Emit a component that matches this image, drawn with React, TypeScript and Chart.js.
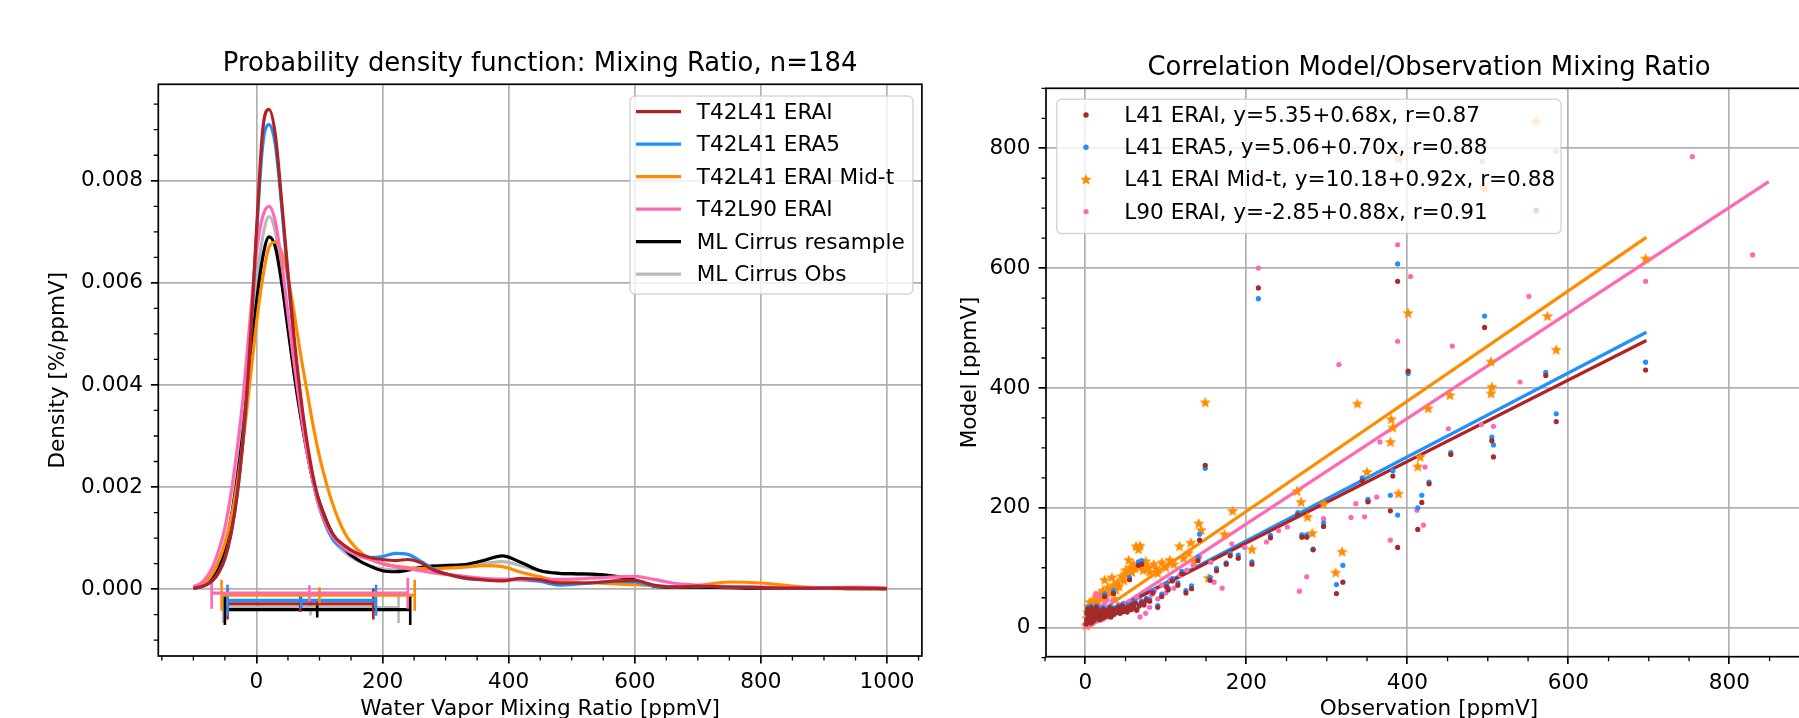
import React, { useEffect, useRef } from "react";
import { Chart, registerables } from "chart.js";
Chart.register(...registerables);

const FONT = "'DejaVu Sans', 'Liberation Sans', sans-serif";
const FS = 21.6;
const FS_TITLE = 25.9;

// ---------------- Left panel: PDF ----------------
const pdfTitle = "Probability density function: Mixing Ratio, n=184";
const pdfXLabel = "Water Vapor Mixing Ratio [ppmV]";
const pdfYLabel = "Density [%/ppmV]";
const pdfSeriesNames = ["T42L41 ERAI", "T42L41 ERA5", "T42L41 ERAI Mid-t", "T42L90 ERAI", "ML Cirrus resample", "ML Cirrus Obs"];
const pdfXTicks = [0, 200, 400, 600, 800, 1000];
const pdfYTicks = [0, 0.002, 0.004, 0.006, 0.008];
const pdfXMinor = [-150, -100, -50, 50, 100, 150, 250, 300, 350, 450, 500, 550, 650, 700, 750, 850, 900, 950, 1050];
const pdfYMinor = [-0.001, -0.0005, 0.0005, 0.001, 0.0015, 0.0025, 0.003, 0.0035, 0.0045, 0.005, 0.0055, 0.0065, 0.007, 0.0075, 0.0085, 0.009, 0.0095];

const pdfX = [-100, -90, -80, -70, -60, -50, -40, -30, -20, -10, 0, 10, 20, 30, 40, 50, 60, 70, 80, 90, 100, 120, 140, 160, 180, 200, 220, 240, 260, 280, 300, 330, 360, 390, 420, 450, 480, 510, 540, 570, 600, 630, 660, 700, 750, 800, 850, 900, 950, 1000];

const pdfERAI = [0.00002, 0.00004, 0.00008, 0.00016, 0.00032, 0.0006, 0.0011, 0.0019, 0.0031, 0.0048, 0.0070, 0.0090, 0.0094, 0.0089, 0.0076, 0.0062, 0.0049, 0.0038, 0.0029, 0.0022, 0.0017, 0.0011, 0.00085, 0.0007, 0.00062, 0.00058, 0.00056, 0.00058, 0.00052, 0.00038, 0.0003, 0.00022, 0.00018, 0.00016, 0.00021, 0.00018, 0.00012, 0.00012, 0.00013, 0.00016, 0.00017, 0.00008, 0.00004, 0.00006, 0.00004, 0.00003, 0.00002, 0.00002, 0.00002, 0.00001];
const pdfERA5 = [0.00002, 0.00004, 0.00008, 0.00016, 0.00032, 0.0006, 0.0011, 0.0019, 0.0031, 0.0048, 0.0069, 0.0087, 0.0091, 0.0087, 0.0075, 0.0061, 0.0048, 0.0037, 0.0028, 0.0021, 0.0016, 0.001, 0.00078, 0.00068, 0.00062, 0.00064, 0.0007, 0.00068, 0.00055, 0.0004, 0.0003, 0.00021, 0.00019, 0.00019, 0.00018, 0.00015, 0.00008, 0.0001, 0.00013, 0.00015, 0.00014, 0.00007, 0.00005, 0.00006, 0.00004, 0.00003, 0.00002, 0.00002, 0.00002, 0.00001];
const pdfMidT = [0.00003, 0.00006, 0.00014, 0.0003, 0.00055, 0.0009, 0.0014, 0.0021, 0.003, 0.0041, 0.0052, 0.0061, 0.0067, 0.0068, 0.0066, 0.0061, 0.0054, 0.0046, 0.0039, 0.0032, 0.0026, 0.0017, 0.0011, 0.00078, 0.0006, 0.0005, 0.00045, 0.00042, 0.0004, 0.0004, 0.00041, 0.00043, 0.00046, 0.00044, 0.00033, 0.00024, 0.00016, 0.00013, 0.00012, 0.0001, 0.00009, 0.00007, 0.00005, 0.00007, 0.00014, 0.00012, 0.00006, 0.00002, 0.00001, 0.00001];
const pdfL90 = [0.00005, 0.0001, 0.00022, 0.00042, 0.00075, 0.0012, 0.0019, 0.0028, 0.0039, 0.0053, 0.0066, 0.0073, 0.0075, 0.0072, 0.0064, 0.0054, 0.0044, 0.0035, 0.0027, 0.0021, 0.0016, 0.00105, 0.0008, 0.00066, 0.00058, 0.0005, 0.00044, 0.0004, 0.00036, 0.00032, 0.00029, 0.00025, 0.00021, 0.00019, 0.00019, 0.00019, 0.00019, 0.0002, 0.00022, 0.00024, 0.00025, 0.00019, 0.00012, 0.00008, 0.00005, 0.00004, 0.00003, 0.00003, 0.00004, 0.00002];
const pdfResample = [0.00002, 0.00004, 0.0001, 0.0002, 0.0004, 0.0008, 0.0014, 0.0022, 0.0032, 0.0044, 0.0056, 0.0065, 0.0069, 0.0067, 0.006, 0.0051, 0.0042, 0.0034, 0.0027, 0.0021, 0.0017, 0.0011, 0.00078, 0.00058, 0.00045, 0.00036, 0.00034, 0.00037, 0.00042, 0.00045, 0.00046, 0.00048, 0.00056, 0.00065, 0.00052, 0.00036, 0.00031, 0.0003, 0.00029, 0.00025, 0.00018, 0.00006, 0.00004, 0.00004, 0.00003, 0.00002, 0.00002, 0.00002, 0.00001, 0.00001];
const pdfObs = [0.00002, 0.00004, 0.0001, 0.0002, 0.0004, 0.0008, 0.0014, 0.0023, 0.0034, 0.0047, 0.006, 0.0069, 0.0073, 0.007, 0.0062, 0.0052, 0.0042, 0.0034, 0.0027, 0.0021, 0.0016, 0.001, 0.00072, 0.00056, 0.00046, 0.0004, 0.00038, 0.0004, 0.00043, 0.00046, 0.00047, 0.00048, 0.0005, 0.00054, 0.00046, 0.00036, 0.00031, 0.00029, 0.00027, 0.00024, 0.00017, 0.00006, 0.00004, 0.00004, 0.00003, 0.00002, 0.00002, 0.00002, 0.00001, 0.00001];

// range bars: [low, middle, high] in ppmV, and their vertical offsets (density units)
const rangeERAI = [-45.8, 69.5, 185.4];
const rangeERA5 = [-45.8, 71, 189.7];
const rangeMidT = [-55.3, 100, 251];
const rangeL90 = [-71, 84, 240];
const rangeResample = [-50, 96.4, 243.9];
const rangeObs = [-52.8, 85.8, 225.4];
const rangeLevels = [-0.00029, -0.00022, -0.00012, -0.00008, -0.0004, -0.00036];

// ---------------- Right panel: correlation ----------------
const corrTitle = "Correlation Model/Observation Mixing Ratio";
const corrXLabel = "Observation [ppmV]";
const corrYLabel = "Model [ppmV]";
const corrNames = ["L41 ERAI, y=5.35+0.68x, r=0.87", "L41 ERA5, y=5.06+0.70x, r=0.88", "L41 ERAI Mid-t, y=10.18+0.92x, r=0.88", "L90 ERAI, y=-2.85+0.88x, r=0.91"];
const corrTicks = [0, 200, 400, 600, 800];
const corrMinor = [-50, 50, 100, 150, 250, 300, 350, 450, 500, 550, 650, 700, 750, 850, 900];

const scatterERAI: number[][] = [[1,6],[2,14],[2,24],[3,9],[3,31],[4,18],[5,12],[5,27],[6,20],[7,8],[7,33],[8,16],[9,24],[10,11],[10,29],[11,19],[12,14],[13,25],[14,34],[15,17],[16,22],[17,28],[18,13],[19,20],[20,26],[21,16],[22,31],[23,21],[24,52],[25,18],[26,25],[27,29],[28,20],[30,23],[31,33],[32,18],[33,27],[35,57],[35,22],[36,30],[38,25],[40,28],[41,34],[43,24],[45,30],[46,36],[48,27],[50,32],[52,26],[54,35],[55,80],[56,30],[58,38],[60,33],[62,41],[64,29],[66,104],[67,36],[70,106],[70,42],[73,38],[76,46],[80,44],[84,58],[90,34],[95,52],[101,68],[103,63],[108,78],[115,71],[120,90],[125,58],[132,65],[140,112],[142,146],[149,271],[155,79],[163,95],[175,106],[180,120],[190,116],[207,106],[215,567],[230,150],[264,188],[269,151],[275,151],[283,130],[296,169],[312,57],[320,76],[344,245],[351,210],[379,195],[382,253],[388,578],[388,134],[401,428],[413,164],[418,209],[427,240],[454,289],[496,501],[505,312],[507,285],[560,697],[572,421],[585,344],[696,430]];
const scatterERA5: number[][] = [[1,8],[2,12],[2,27],[3,11],[3,34],[4,20],[5,14],[5,30],[6,22],[7,10],[7,36],[8,18],[9,26],[10,13],[10,32],[11,21],[12,16],[13,27],[14,37],[15,19],[16,24],[17,31],[18,15],[19,22],[20,29],[21,18],[22,34],[23,23],[24,56],[25,20],[26,28],[27,32],[28,22],[30,25],[31,36],[32,20],[33,29],[35,62],[35,24],[36,33],[38,27],[40,31],[41,37],[43,26],[45,33],[46,39],[48,29],[50,35],[52,28],[54,38],[55,84],[56,33],[58,41],[60,36],[62,44],[64,31],[66,110],[67,39],[70,112],[70,45],[73,41],[76,49],[80,47],[84,62],[90,37],[95,56],[101,72],[103,66],[108,82],[115,75],[120,94],[125,62],[132,70],[140,118],[142,156],[149,266],[155,84],[163,99],[175,108],[180,124],[190,121],[207,110],[215,549],[230,154],[264,192],[269,155],[275,155],[283,131],[296,175],[312,72],[320,104],[344,250],[351,214],[379,221],[382,262],[388,607],[388,188],[401,424],[413,200],[418,221],[427,243],[454,292],[496,520],[505,318],[507,305],[560,695],[572,426],[585,357],[696,443]];
const scatterMidT: number[][] = [[1,4],[2,16],[3,26],[4,36],[5,21],[6,43],[7,12],[8,31],[10,46],[11,24],[12,39],[14,52],[15,33],[16,44],[18,57],[20,49],[22,62],[24,80],[26,54],[28,67],[30,59],[33,84],[35,71],[37,48],[38,63],[40,76],[42,69],[45,86],[48,79],[50,96],[52,89],[54,113],[56,101],[58,93],[60,106],[62,99],[63,136],[66,131],[68,137],[70,103],[72,96],[75,111],[78,101],[80,93],[85,106],[88,99],[90,91],[95,109],[100,101],[105,113],[110,106],[117,136],[122,116],[128,125],[131,142],[135,112],[141,174],[144,163],[149,376],[153,83],[173,156],[183,195],[207,131],[215,756],[263,228],[268,210],[276,185],[282,158],[296,207],[311,92],[319,127],[338,374],[350,260],[379,310],[380,348],[382,334],[389,224],[389,783],[401,525],[413,269],[416,285],[426,366],[453,388],[496,734],[504,391],[505,402],[504,444],[560,845],[574,520],[585,464],[696,616]];
const scatterL90: number[][] = [[1,3],[2,11],[3,19],[4,8],[5,23],[6,15],[7,30],[8,27],[9,18],[10,12],[12,24],[13,57],[14,30],[15,17],[16,52],[17,21],[19,35],[20,26],[22,14],[24,41],[25,22],[27,46],[28,30],[30,18],[32,26],[34,45],[36,22],[38,33],[40,28],[42,38],[45,25],[48,41],[50,32],[52,28],[55,44],[58,36],[60,30],[64,51],[68,18],[70,40],[75,24],[80,34],[82,55],[86,62],[90,48],[95,71],[100,58],[105,80],[110,66],[118,88],[126,96],[134,104],[142,118],[156,109],[160,76],[170,66],[182,140],[198,134],[225,143],[215,600],[240,162],[251,168],[266,61],[275,85],[296,182],[315,439],[330,184],[336,207],[347,185],[352,211],[362,218],[366,310],[379,146],[388,639],[388,478],[404,586],[412,196],[420,171],[422,268],[451,332],[456,470],[492,339],[493,778],[507,336],[540,410],[551,553],[585,795],[696,578],[754,786],[829,622]];

// regression lines: endpoints [obs, model]
const fitERAI = [[2, 6.7], [697, 479.3]];
const fitERA5 = [[2, 6.5], [697, 493.0]];
const fitMidT = [[2, 12.0], [697, 651.4]];
const fitL90 = [[2, -1.1], [849, 744.3]];

// ---------------- helpers ----------------
const C_RED = "#b22222";
const C_RED_PT = "#a52a2a";
const C_BLUE = "#1e90ff";
const C_ORANGE = "#ff8c00";
const C_PINK = "#ff69b4";
const C_BLACK = "#000000";
const C_GRAY = "#b8b8b8";

function starPath(ctx: CanvasRenderingContext2D, cx: number, cy: number, R: number, r: number) {
  ctx.beginPath();
  for (let i = 0; i < 10; i++) {
    const a = -Math.PI / 2 + (i * Math.PI) / 5;
    const rad = i % 2 === 0 ? R : r;
    const px = cx + rad * Math.cos(a);
    const py = cy + rad * Math.sin(a);
    if (i === 0) ctx.moveTo(px, py);
    else ctx.lineTo(px, py);
  }
  ctx.closePath();
}

function makeStar(color: string): HTMLCanvasElement {
  const c = document.createElement("canvas");
  c.width = 14;
  c.height = 14;
  const g = c.getContext("2d")!;
  g.fillStyle = color;
  starPath(g, 7, 7.4, 6, 2.6);
  g.fill();
  return c;
}

function roundRect(ctx: CanvasRenderingContext2D, x: number, y: number, w: number, h: number, r: number) {
  ctx.beginPath();
  ctx.moveTo(x + r, y);
  ctx.lineTo(x + w - r, y);
  ctx.arcTo(x + w, y, x + w, y + r, r);
  ctx.lineTo(x + w, y + h - r);
  ctx.arcTo(x + w, y + h, x + w - r, y + h, r);
  ctx.lineTo(x + r, y + h);
  ctx.arcTo(x, y + h, x, y + h - r, r);
  ctx.lineTo(x, y + r);
  ctx.arcTo(x, y, x + r, y, r);
  ctx.closePath();
}

const decorPlugin = {
  id: "decor",
  afterDraw(chart: any, _args: any, o: any) {
    const { ctx, chartArea: ca } = chart;
    const xs = chart.scales.x;
    const ys = chart.scales.y;
    ctx.save();
    // minor ticks
    ctx.strokeStyle = "#000";
    ctx.lineWidth = 1.3;
    ctx.beginPath();
    for (const v of o.minorX) {
      const p = xs.getPixelForValue(v);
      if (p < ca.left - 1 || p > ca.right + 1) continue;
      ctx.moveTo(p, ca.bottom);
      ctx.lineTo(p, ca.bottom + 4.5);
    }
    for (const v of o.minorY) {
      const p = ys.getPixelForValue(v);
      if (p < ca.top - 1 || p > ca.bottom + 1) continue;
      ctx.moveTo(ca.left, p);
      ctx.lineTo(ca.left - 4.5, p);
    }
    ctx.stroke();
    // spines
    ctx.lineWidth = 1.7;
    ctx.strokeRect(ca.left, ca.top, ca.right - ca.left, ca.bottom - ca.top);
    // legend
    const L = o.legend;
    roundRect(ctx, L.x, L.y, L.w, L.h, 5);
    ctx.fillStyle = "rgba(255,255,255,0.8)";
    ctx.fill();
    ctx.strokeStyle = "rgba(204,204,204,0.8)";
    ctx.lineWidth = 1.5;
    ctx.stroke();
    ctx.font = `${FS}px ${FONT}`;
    ctx.textBaseline = "middle";
    ctx.textAlign = "left";
    L.items.forEach((it: any, i: number) => {
      const y = L.row0 + i * L.dy;
      if (it.kind === "line") {
        ctx.strokeStyle = it.color;
        ctx.lineWidth = 3.2;
        ctx.beginPath();
        ctx.moveTo(L.h0, y);
        ctx.lineTo(L.h1, y);
        ctx.stroke();
      } else if (it.kind === "dot") {
        ctx.fillStyle = it.color;
        ctx.beginPath();
        ctx.arc(L.mx, y, 2.7, 0, Math.PI * 2);
        ctx.fill();
      } else {
        ctx.fillStyle = it.color;
        starPath(ctx, L.mx, y + 0.4, 6, 2.6);
        ctx.fill();
      }
      ctx.fillStyle = "#000";
      ctx.fillText(it.label, L.tx, y + 1.3);
    });
    ctx.restore();
  },
};

const gridOpts = { color: "#b0b0b0", lineWidth: 1.7, tickColor: "#000", tickWidth: 1.7, tickLength: 7.4, drawTicks: true };
const tickFont = { family: FONT, size: FS };

function curve(name: string, ys: number[], color: string, order: number) {
  return {
    label: name,
    data: pdfX.map((x, i) => ({ x, y: ys[i] })),
    showLine: true,
    borderColor: color,
    borderWidth: 3.2,
    pointRadius: 0,
    cubicInterpolationMode: "monotone",
    order,
  };
}

function rangeBar(vals: number[], level: number, color: string, order: number) {
  return {
    data: vals.map((x) => ({ x, y: level })),
    showLine: true,
    borderColor: color,
    borderWidth: 3.2,
    pointStyle: "line",
    pointRotation: 90,
    pointRadius: [15.5, 8, 15.5],
    pointBorderWidth: 2.6,
    pointBorderColor: color,
    pointBackgroundColor: color,
    order,
  };
}

function leftConfig(): any {
  return {
    type: "scatter",
    data: {
      datasets: [
        curve(pdfSeriesNames[0], pdfERAI, C_RED, 0),
        curve(pdfSeriesNames[1], pdfERA5, C_BLUE, 2),
        curve(pdfSeriesNames[2], pdfMidT, C_ORANGE, 3),
        curve(pdfSeriesNames[3], pdfL90, C_PINK, 1),
        curve(pdfSeriesNames[4], pdfResample, C_BLACK, 4),
        curve(pdfSeriesNames[5], pdfObs, C_GRAY, 5),
        rangeBar(rangeERAI, rangeLevels[0], C_RED, 9),
        rangeBar(rangeERA5, rangeLevels[1], C_BLUE, 8),
        rangeBar(rangeMidT, rangeLevels[2], C_ORANGE, 7),
        rangeBar(rangeL90, rangeLevels[3], C_PINK, 6),
        rangeBar(rangeResample, rangeLevels[4], C_BLACK, 10),
        rangeBar(rangeObs, rangeLevels[5], C_GRAY, 11),
      ],
    },
    options: {
      animation: false,
      responsive: false,
      maintainAspectRatio: false,
      devicePixelRatio: 1,
      events: [],
      layout: { padding: { left: 0, right: 15.7, top: 49, bottom: 0 } },
      plugins: {
        legend: { display: false },
        tooltip: { enabled: false },
        title: {
          display: true,
          text: pdfTitle,
          color: "#000",
          font: { family: FONT, size: FS_TITLE, weight: "normal" },
          padding: { top: 0, bottom: 4.2 },
          fullSize: false,
        },
        decor: {
          minorX: pdfXMinor,
          minorY: pdfYMinor,
          legend: {
            x: 630, y: 96, w: 283, h: 198,
            h0: 636, h1: 681, tx: 696.7, row0: 111.7, dy: 32.5,
            items: [
              { label: pdfSeriesNames[0], color: C_RED, kind: "line" },
              { label: pdfSeriesNames[1], color: C_BLUE, kind: "line" },
              { label: pdfSeriesNames[2], color: C_ORANGE, kind: "line" },
              { label: pdfSeriesNames[3], color: C_PINK, kind: "line" },
              { label: pdfSeriesNames[4], color: C_BLACK, kind: "line" },
              { label: pdfSeriesNames[5], color: C_GRAY, kind: "line" },
            ],
          },
        },
      },
      scales: {
        x: {
          type: "linear",
          min: -155.6,
          max: 1055.3,
          afterBuildTicks: (s: any) => { s.ticks = pdfXTicks.map((value) => ({ value })); },
          afterFit: (s: any) => { s.height = 84; },
          grid: gridOpts,
          border: { display: false },
          ticks: { font: tickFont, color: "#000", padding: 6, maxRotation: 0, autoSkip: false, callback: (v: any) => String(v) },
          title: { display: true, text: pdfXLabel, color: "#000", font: tickFont, padding: { top: 0, bottom: 17.5 } },
        },
        y: {
          type: "linear",
          min: -0.00131,
          max: 0.00989,
          afterBuildTicks: (s: any) => { s.ticks = pdfYTicks.map((value) => ({ value })); },
          afterFit: (s: any) => { s.width = 158.3; },
          grid: gridOpts,
          border: { display: false },
          ticks: { font: tickFont, color: "#000", padding: 8, autoSkip: false, callback: (v: any) => Number(v).toFixed(3) },
          title: { display: true, text: pdfYLabel, color: "#000", font: tickFont, padding: { top: 45.3, bottom: 0 } },
        },
      },
    },
    plugins: [decorPlugin],
  };
}

function rightConfig(star: HTMLCanvasElement): any {
  const pts = (arr: number[][]) => arr.map(([x, y]) => ({ x, y }));
  const fit = (arr: number[][], color: string, order: number) => ({
    data: pts(arr), showLine: true, borderColor: color, borderWidth: 3.2, pointRadius: 0, order,
  });
  return {
    type: "scatter",
    data: {
      datasets: [
        { data: pts(scatterERAI), pointRadius: 2.6, pointBorderWidth: 0, pointBackgroundColor: C_RED_PT, backgroundColor: C_RED_PT, order: 0 },
        { data: pts(scatterERA5), pointRadius: 2.6, pointBorderWidth: 0, pointBackgroundColor: C_BLUE, backgroundColor: C_BLUE, order: 1 },
        { data: pts(scatterL90), pointRadius: 2.6, pointBorderWidth: 0, pointBackgroundColor: C_PINK, backgroundColor: C_PINK, order: 2 },
        { data: pts(scatterMidT), pointStyle: star, pointRadius: 6, order: 3 },
        fit(fitERAI, C_RED, 4),
        fit(fitERA5, C_BLUE, 5),
        fit(fitL90, C_PINK, 6),
        fit(fitMidT, C_ORANGE, 7),
      ],
    },
    options: {
      animation: false,
      responsive: false,
      maintainAspectRatio: false,
      devicePixelRatio: 1,
      events: [],
      layout: { padding: { left: 0, right: 48, top: 52.7, bottom: 0 } },
      plugins: {
        legend: { display: false },
        tooltip: { enabled: false },
        title: {
          display: true,
          text: corrTitle,
          color: "#000",
          font: { family: FONT, size: FS_TITLE, weight: "normal" },
          padding: { top: 0, bottom: 4.5 },
          fullSize: false,
        },
        decor: {
          minorX: corrMinor,
          minorY: corrMinor,
          legend: {
            x: 116.7, y: 99.3, w: 504.3, h: 134.3,
            mx: 146, tx: 184.3, row0: 115, dy: 32.2,
            items: [
              { label: corrNames[0], color: C_RED_PT, kind: "dot" },
              { label: corrNames[1], color: C_BLUE, kind: "dot" },
              { label: corrNames[2], color: C_ORANGE, kind: "star" },
              { label: corrNames[3], color: C_PINK, kind: "dot" },
            ],
          },
        },
      },
      scales: {
        x: {
          type: "linear",
          min: -48.8,
          max: 902.7,
          afterBuildTicks: (s: any) => { s.ticks = corrTicks.map((value) => ({ value })); },
          afterFit: (s: any) => { s.height = 83.3; },
          grid: gridOpts,
          border: { display: false },
          ticks: { font: tickFont, color: "#000", padding: 6, maxRotation: 0, autoSkip: false, callback: (v: any) => String(v) },
          title: { display: true, text: corrXLabel, color: "#000", font: tickFont, padding: { top: 0, bottom: 17.5 } },
        },
        y: {
          type: "linear",
          min: -48.4,
          max: 900.1,
          afterBuildTicks: (s: any) => { s.ticks = corrTicks.map((value) => ({ value })); },
          afterFit: (s: any) => { s.width = 106; },
          grid: gridOpts,
          border: { display: false },
          ticks: { font: tickFont, color: "#000", padding: 8, autoSkip: false, callback: (v: any) => String(v) },
          title: { display: true, text: corrYLabel, color: "#000", font: tickFont, padding: { top: 17.7, bottom: 0 } },
        },
      },
    },
    plugins: [decorPlugin],
  };
}

export default function App() {
  const leftRef = useRef<HTMLCanvasElement>(null);
  const rightRef = useRef<HTMLCanvasElement>(null);
  useEffect(() => {
    const star = makeStar(C_ORANGE);
    const c1 = new Chart(leftRef.current!, leftConfig());
    const c2 = new Chart(rightRef.current!, rightConfig(star));
    return () => {
      c1.destroy();
      c2.destroy();
    };
  }, []);
  return (
    <div style={{ position: "fixed", left: 0, top: 0, width: 1799, height: 718, overflow: "hidden", background: "#fff" }}>
      <canvas ref={leftRef} width={940} height={740} style={{ position: "absolute", left: 0, top: 0, width: 940, height: 740 }} />
      <canvas ref={rightRef} width={920} height={740} style={{ position: "absolute", left: 940, top: 0, width: 920, height: 740 }} />
    </div>
  );
}
